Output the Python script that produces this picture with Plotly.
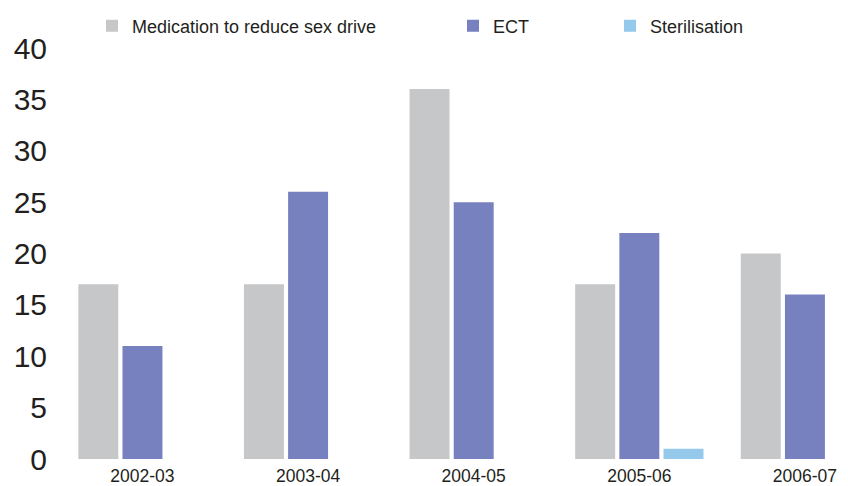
import plotly.graph_objects as go

years = ["2002-03", "2003-04", "2004-05", "2005-06", "2006-07"]
medication = [17, 17, 36, 17, 20]
ect = [11, 26, 25, 22, 16]
sterilisation = [0, 0, 0, 1, 0]

series_names = ["Medication to reduce sex drive", "ECT", "Sterilisation"]
series_colors = ["#c6c7c9", "#7781bf", "#94c9ec"]
y_ticks = [0, 5, 10, 15, 20, 25, 30, 35, 40]

W, H = 848, 486
FONT = "Arial, Liberation Sans, sans-serif"
TXT = "#231f20"

fig = go.Figure()
for i, (name, vals, col) in enumerate(zip(series_names, [medication, ect, sterilisation], series_colors)):
    fig.add_trace(go.Bar(
        x=years, y=vals, name=name, marker=dict(color=col, line=dict(width=0)),
        legend="legend" if i == 0 else f"legend{i+1}",
    ))

legend_px = [92, 453, 610]
legends = {}
for i, px in enumerate(legend_px):
    key = "legend" if i == 0 else f"legend{i+1}"
    legends[key] = dict(
        x=px / W, xref="container", xanchor="left",
        y=1 - 26 / H, yref="container", yanchor="middle",
        orientation="h", bgcolor="rgba(0,0,0,0)",
        font=dict(family=FONT, size=18, color=TXT),
    )

fig.update_layout(
    width=W, height=H,
    margin=dict(l=58, r=0, t=48, b=27, autoexpand=False),
    paper_bgcolor="white", plot_bgcolor="white",
    barmode="group", bargap=0.2, bargroupgap=0.095,
    font=dict(family=FONT, color=TXT),
    showlegend=True,
    **legends,
)
fig.update_xaxes(
    type="category", range=[-0.51, 4.26], showgrid=False, zeroline=False, showline=False,
    ticks="", tickfont=dict(size=17.5, color=TXT), ticklabelstandoff=4, automargin=False,
)
fig.update_yaxes(
    range=[0, 40], tickvals=y_ticks, showgrid=False, zeroline=False, showline=False,
    ticks="", tickfont=dict(size=30, color=TXT), ticklabelstandoff=10, automargin=False,
)

fig.write_html("out.html")
